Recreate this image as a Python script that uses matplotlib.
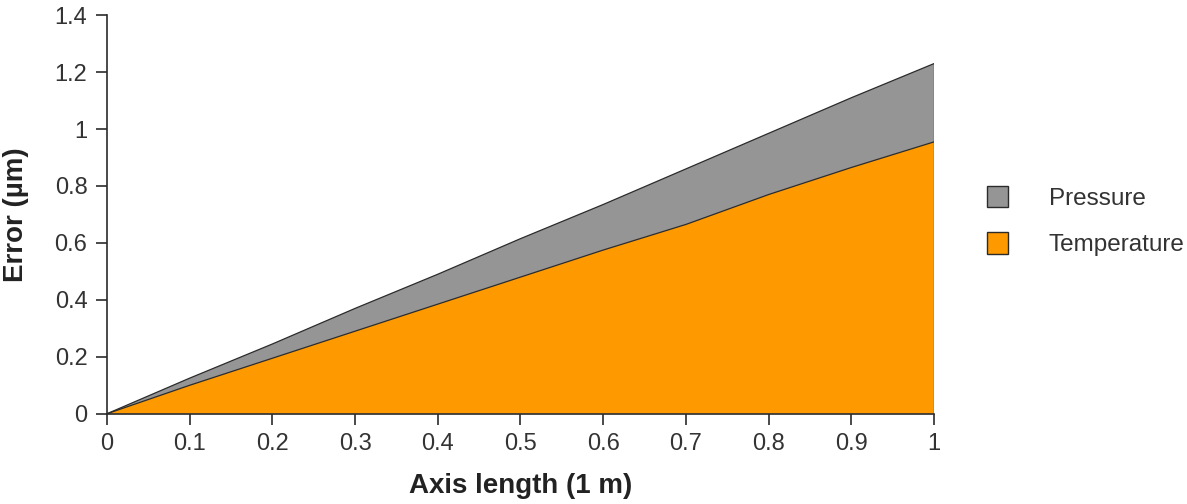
import numpy as np
import matplotlib
matplotlib.use("Agg")
import matplotlib.pyplot as plt
from matplotlib.patches import Patch

plt.rcParams['font.family'] = ['Liberation Sans', 'DejaVu Sans']

# valores
axis_length = [0, 0.1, 0.2, 0.3, 0.4, 0.5, 0.6, 0.7, 0.8, 0.9, 1.0]
temperature = [0, 0.100, 0.195, 0.290, 0.385, 0.480, 0.575, 0.665, 0.770, 0.865, 0.955]
pressure = [0, 0.025, 0.050, 0.080, 0.105, 0.135, 0.160, 0.195, 0.215, 0.245, 0.275]

x_ticks = [0, 0.1, 0.2, 0.3, 0.4, 0.5, 0.6, 0.7, 0.8, 0.9, 1]
x_labels = ["0", "0.1", "0.2", "0.3", "0.4", "0.5", "0.6", "0.7", "0.8", "0.9", "1"]
y_ticks = [0, 0.2, 0.4, 0.6, 0.8, 1.0, 1.2, 1.4]
y_labels = ["0", "0.2", "0.4", "0.6", "0.8", "1", "1.2", "1.4"]

orange = "#FF9900"
grey = "#959595"
edge = "#2b2b2b"
text_col = "#333333"

fig = plt.figure(figsize=(11.87, 5.04), dpi=100)
ax = fig.add_axes([0.090, 0.179, 0.697, 0.791])

temp = np.array(temperature)
total = temp + np.array(pressure)

ax.fill_between(axis_length, 0, temp, facecolor=orange, edgecolor="none")
ax.fill_between(axis_length, temp, total, facecolor=grey, edgecolor="none")
ax.plot(axis_length, temp, color=edge, lw=0.9)
ax.plot(axis_length, total, color=edge, lw=0.9)
ax.plot([1, 1], [0, total[-1]], color=edge, lw=0.9)

ax.set_xlim(0, 1)
ax.set_ylim(0, 1.4)
ax.set_xticks(x_ticks)
ax.set_xticklabels(x_labels)
ax.set_yticks(y_ticks)
ax.set_yticklabels(y_labels)

for s in ["top", "right"]:
    ax.spines[s].set_visible(False)
for s in ["left", "bottom"]:
    ax.spines[s].set_color(edge)
    ax.spines[s].set_linewidth(1.2)

ax.tick_params(direction="out", length=8, width=1.2, color=edge,
               labelsize=17, labelcolor=text_col, pad=6)

ax.set_xlabel("Axis length (1 m)", fontsize=20, fontweight="bold", color="#222222")
ax.set_ylabel("Error (µm)", fontsize=20, fontweight="bold", color="#222222")
ax.xaxis.set_label_coords(0.5, -0.148)
ax.yaxis.set_label_coords(-0.094, 0.5)

handles = [Patch(facecolor=grey, edgecolor=edge, label="Pressure"),
           Patch(facecolor=orange, edgecolor=edge, label="Temperature")]
fig.legend(handles=handles, loc="upper left", bbox_to_anchor=(0.813, 0.675),
           frameon=False, fontsize=17.5, handlelength=0.85, handleheight=1.0,
           handletextpad=1.7, labelspacing=0.9, labelcolor=text_col)

fig.savefig("out.png", dpi=100)
